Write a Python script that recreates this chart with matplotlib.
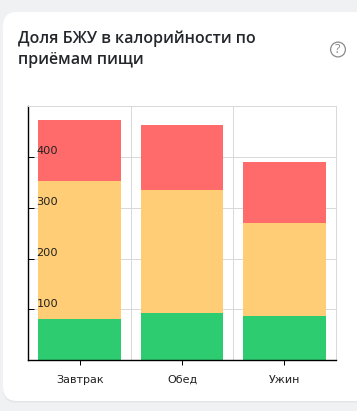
import matplotlib
matplotlib.use("Agg")
import matplotlib.pyplot as plt
from matplotlib.patches import FancyBboxPatch, Circle

categories = ["Завтрак", "Обед", "Ужин"]
green = [81, 93, 87]
orange = [272, 242, 183]
red = [120, 128, 120]
yticks = [100, 200, 300, 400]
ytick_labels = ["100", "200", "300", "400"]
title = "Доля БЖУ в калорийности по\nприёмам пищи"

W, H = 357, 411
fig = plt.figure(figsize=(W / 100, H / 100), dpi=100, facecolor="#eff1f3")

bg = fig.add_axes([0, 0, 1, 1], zorder=0)
bg.set_xlim(0, W)
bg.set_ylim(H, 0)
bg.axis("off")
for off, col in [(2.0, "#e8eaed"), (1.0, "#e3e5e8")]:
    bg.add_patch(FancyBboxPatch((3 + 14, 12 + 14 + off), W + 30 - 28, 389 - 28,
                                boxstyle="round,pad=14", fc=col, ec="none"))
bg.add_patch(FancyBboxPatch((3 + 14, 12 + 14), W + 30 - 28, 389 - 28,
                            boxstyle="round,pad=14", fc="white", ec="none"))
bg.text(18, 30.5, title, family="Open Sans", weight=600, fontsize=11.5, color="#23272b",
        va="top", ha="left", linespacing=1.42)
bg.add_patch(Circle((338, 49.5), 7.4, fc="none", ec="#8a8a8a", lw=0.9))
bg.text(338, 49.6, "?", family="Open Sans", fontsize=9, color="#8a8a8a", ha="center", va="center")

L, R, T, B = 28.5, 335.5, 106.2, 360.2
ax = fig.add_axes([L / W, 1 - B / H, (R - L) / W, (B - T) / H], zorder=1)
ax.patch.set_alpha(0)
x = range(len(categories))
bw = 0.81
bottom2 = [a + b for a, b in zip(green, orange)]
ax.bar(x, green, bw, color="#2ecc71", zorder=2)
ax.bar(x, orange, bw, bottom=green, color="#ffcd75", zorder=2)
ax.bar(x, red, bw, bottom=bottom2, color="#ff6b6b", zorder=2)

ax.set_xlim(-0.5, 2.5)
ax.set_ylim(0, 500)
ax.set_xticks(list(x), categories)
ax.set_yticks([0] + yticks + [500], [""] * 6)
ax.set_xticks([0.5, 1.5], minor=True)
ax.grid(True, axis="y", which="major", color="#d9d9d9", lw=0.72, zorder=1)
ax.grid(True, axis="x", which="minor", color="#d9d9d9", lw=0.72, zorder=1)
ax.tick_params(axis="x", which="major", direction="out", length=3.5, width=0.72, color="black", pad=7,
               labelsize=8, labelcolor="#222222")
ax.tick_params(axis="x", which="minor", length=0)
ax.tick_params(axis="y", direction="in", length=4, width=0.72, color="black")
for v, s in zip(yticks, ytick_labels):
    ax.annotate(s, (0, v), xycoords=ax.get_yaxis_transform(), xytext=(5.8, 0.6),
                textcoords="offset points", ha="left", va="bottom", fontsize=8.2,
                color="#222222", zorder=5)
for s in ("left", "bottom"):
    ax.spines[s].set_linewidth(1.0)
    ax.spines[s].set_color("black")
for s in ("top", "right"):
    ax.spines[s].set_color("#d9d9d9")
    ax.spines[s].set_linewidth(0.72)

fig.savefig("out.png", dpi=100, facecolor=fig.get_facecolor())
